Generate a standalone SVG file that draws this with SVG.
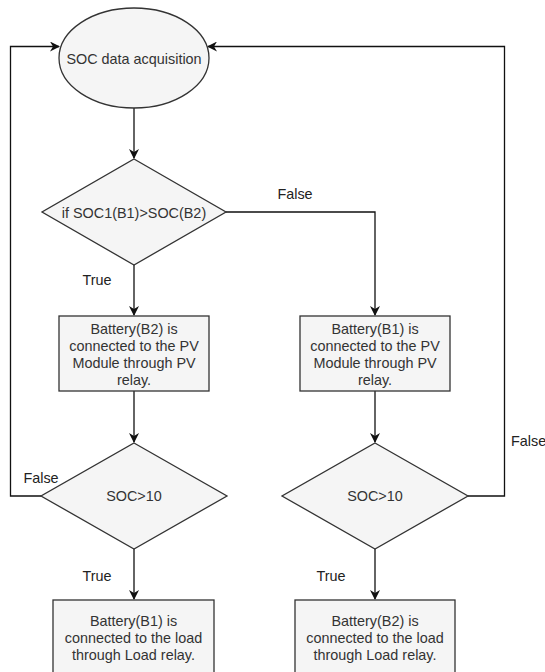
<svg xmlns="http://www.w3.org/2000/svg" width="545" height="672" viewBox="0 0 545 672">
<style>
  .shape { fill: #f5f5f5; stroke: #333333; stroke-width: 1.3; }
  .t { font-family: "Liberation Sans", Arial, sans-serif; font-size: 14.4px; fill: #333333; text-anchor: middle; }
  .lbl { font-family: "Liberation Sans", Arial, sans-serif; font-size: 14.4px; fill: #222222; text-anchor: middle; }
  .edge { fill: none; stroke: #111111; stroke-width: 1.3; marker-end: url(#arr); }
</style>
<defs>
  <marker id="arr" viewBox="0 0 10 10" refX="9" refY="5" markerWidth="10" markerHeight="10" markerUnits="userSpaceOnUse" orient="auto">
    <path d="M0,0 L10,5 L0,10 L3,5 Z" fill="#111111"/>
  </marker>
</defs>
<rect width="545" height="672" fill="#ffffff"/>
<g id="connectors">
  <path class="edge" d="M134,108 L134,158"/>
  <path class="edge" d="M134,265 L134,315"/>
  <path class="edge" d="M226,212 L375,212 L375,315"/>
  <path class="edge" d="M134,391 L134,442"/>
  <path class="edge" d="M375,391 L375,442"/>
  <path class="edge" d="M41,496 L10.5,496 L10.5,46.5 L59,46.5"/>
  <path class="edge" d="M468,496 L504.5,496 L504.5,46.5 L208,46.5"/>
  <path class="edge" d="M134,549 L134,599"/>
  <path class="edge" d="M375,549 L375,599"/>
  <text class="lbl" x="295" y="199">False</text>
  <text class="lbl" x="97" y="285">True</text>
  <text class="lbl" x="41" y="483">False</text>
  <text class="lbl" x="511" y="446" text-anchor="start" style="text-anchor:start">False</text>
  <text class="lbl" x="97" y="581">True</text>
  <text class="lbl" x="331" y="581">True</text>
</g>
<g id="start">
  <ellipse class="shape" cx="134" cy="58" rx="75" ry="50"/>
  <text class="t" x="134" y="64">SOC data acquisition</text>
</g>
<g id="decision1">
  <polygon class="shape" points="134,159 226,212 134,265 42,212"/>
  <text class="t" x="134" y="218">if SOC1(B1)&gt;SOC(B2)</text>
</g>
<g id="pvB2">
  <rect class="shape" x="59" y="316" width="150" height="75"/>
  <text class="t" x="134" y="334">Battery(B2) is</text>
  <text class="t" x="134" y="351">connected to the PV</text>
  <text class="t" x="134" y="368">Module through PV</text>
  <text class="t" x="134" y="385">relay.</text>
</g>
<g id="pvB1">
  <rect class="shape" x="300" y="316" width="150" height="75"/>
  <text class="t" x="375" y="334">Battery(B1) is</text>
  <text class="t" x="375" y="351">connected to the PV</text>
  <text class="t" x="375" y="368">Module through PV</text>
  <text class="t" x="375" y="385">relay.</text>
</g>
<g id="decision2">
  <polygon class="shape" points="134,443 227,496 134,549 41,496"/>
  <text class="t" x="134" y="501">SOC&gt;10</text>
</g>
<g id="decision3">
  <polygon class="shape" points="375,443 468,496 375,549 282,496"/>
  <text class="t" x="375" y="501">SOC&gt;10</text>
</g>
<g id="loadB1">
  <rect class="shape" x="53" y="600" width="161" height="90"/>
  <text class="t" x="133.5" y="626">Battery(B1) is</text>
  <text class="t" x="133.5" y="643">connected to the load</text>
  <text class="t" x="133.5" y="660">through Load relay.</text>
</g>
<g id="loadB2">
  <rect class="shape" x="295" y="600" width="160" height="90"/>
  <text class="t" x="375" y="626">Battery(B2) is</text>
  <text class="t" x="375" y="643">connected to the load</text>
  <text class="t" x="375" y="660">through Load relay.</text>
</g>
</svg>
